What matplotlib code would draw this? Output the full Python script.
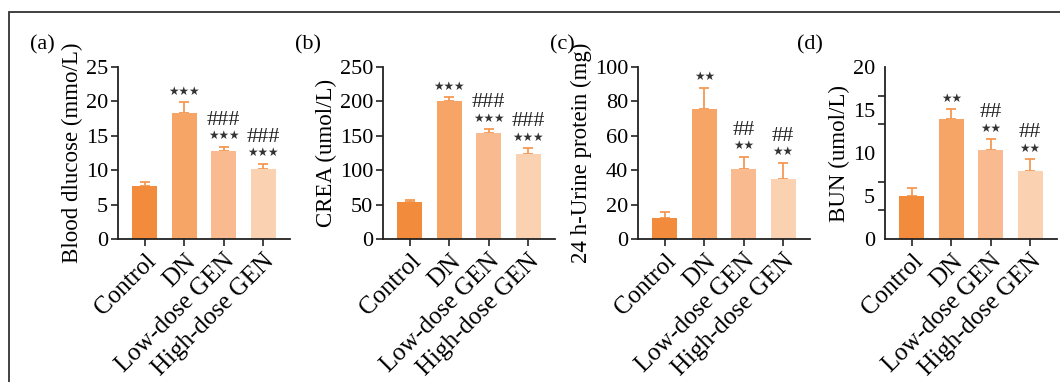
import matplotlib
matplotlib.use("Agg")
import matplotlib.pyplot as plt
from matplotlib.patches import Rectangle
import numpy as np

plt.rcParams['font.family'] = ['Liberation Serif', 'DejaVu Sans']

categories = ["Control", "DN", "Low-dose GEN", "High-dose GEN"]
colors = ["#F38B3C", "#F6A566", "#F8BA8E", "#FAD2B2"]
err_color = "#F59A55"

glucose_mean = [7.7, 18.3, 12.8, 10.2]
glucose_err = [0.6, 1.6, 0.6, 0.7]
crea_mean = [53.8, 200.6, 154.0, 123.5]
crea_err = [2.9, 5.4, 5.4, 8.3]
urine_mean = [12.2, 75.6, 40.5, 34.9]
urine_err = [3.5, 12.2, 7.4, 9.5]
bun_mean = [5.0, 13.95, 10.35, 7.9]
bun_err = [0.97, 1.15, 1.25, 1.37]

star_a = ["", "***", "***", "***"]
hash_a = ["", "", "###", "###"]
star_c = ["", "**", "**", "**"]
hash_c = ["", "", "##", "##"]

panels = [
    dict(label="(a)", ylabel="Blood dlucose (mmo/L)", mean=glucose_mean, err=glucose_err,
         ymax=25, yticks=[0, 5, 10, 15, 20, 25], stars=star_a, hashes=hash_a, left=118),
    dict(label="(b)", ylabel="CREA (umol/L)", mean=crea_mean, err=crea_err,
         ymax=250, yticks=[0, 50, 100, 150, 200, 250], stars=star_a, hashes=hash_a, left=383),
    dict(label="(c)", ylabel="24 h-Urine protein (mg)", mean=urine_mean, err=urine_err,
         ymax=100, yticks=[0, 20, 40, 60, 80, 100], stars=star_c, hashes=hash_c, left=638),
    dict(label="(d)", ylabel="BUN (umol/L)", mean=bun_mean, err=bun_err,
         ymax=20, yticks=[0, 5, 10, 15, 20], stars=star_c, hashes=hash_c, left=885),
]

W, H = 1060, 382
FS = 16
fig = plt.figure(figsize=(W / 100, H / 100), dpi=100)

# outer frame
fig.add_artist(Rectangle((9 / W, -0.1), 1.2, (H - 12) / H + 0.1, transform=fig.transFigure,
                         fill=False, edgecolor="#333333", linewidth=1.3))

x = np.arange(len(categories))
for p in panels:
    ax = fig.add_axes([p["left"] / W, (H - 239) / H, 172 / W, 172 / H])
    ax.bar(x, p["mean"], width=0.63, color=colors, zorder=2)
    ax.errorbar(x, p["mean"], yerr=[np.zeros(4), p["err"]], fmt="none",
                ecolor=err_color, elinewidth=1.3, capsize=3.5, capthick=1.3, zorder=1)
    ax.set_xlim(-0.68, 3.68)
    ax.set_ylim(0, p["ymax"])
    for s in ["top", "right"]:
        ax.spines[s].set_visible(False)
    for s in ["left", "bottom"]:
        ax.spines[s].set_linewidth(1.3)
        ax.spines[s].set_color("#222222")
    ax.set_xticks(x)
    ax.set_xticklabels(categories, rotation=45, ha="right", rotation_mode="anchor", fontsize=18)
    ax.tick_params(axis="x", length=5, width=1.2, color="#222222", pad=3)
    if p["label"] == "(d)":
        ax.set_yticks(p["yticks"])
        ax.set_yticklabels([str(t) for t in p["yticks"]], fontsize=FS)
        ax.tick_params(axis="y", which="major", length=0, pad=7)
        ax.set_yticks(np.linspace(0, 20, 7), minor=True)
        ax.tick_params(axis="y", which="minor", length=5, width=1.2, color="#222222")
    else:
        ax.set_yticks(p["yticks"])
        ax.set_yticklabels([str(t) for t in p["yticks"]], fontsize=FS)
        ax.tick_params(axis="y", length=5, width=1.2, color="#222222", pad=2)
    ax.set_ylabel(p["ylabel"], fontsize=16.5, labelpad=2)
    for i in range(4):
        top = p["mean"][i] + p["err"][i]
        if p["stars"][i]:
            st = p["stars"][i].replace("*", "\u2605")
            ax.annotate(st, (i, top), xytext=(0, 8), textcoords="offset points",
                        ha="center", va="center", fontsize=8.5,
                        family=["DejaVu Sans"], color="#333333")
        if p["hashes"][i]:
            ax.annotate(p["hashes"][i], (i, top), xytext=(0, 19), textcoords="offset points",
                        ha="center", va="center", fontsize=16, color="#222222")
    fig.text((p["left"] - 88) / W, (H - 45) / H, p["label"], fontsize=FS, ha="left", va="center")

fig.savefig("out.png", dpi=100)
